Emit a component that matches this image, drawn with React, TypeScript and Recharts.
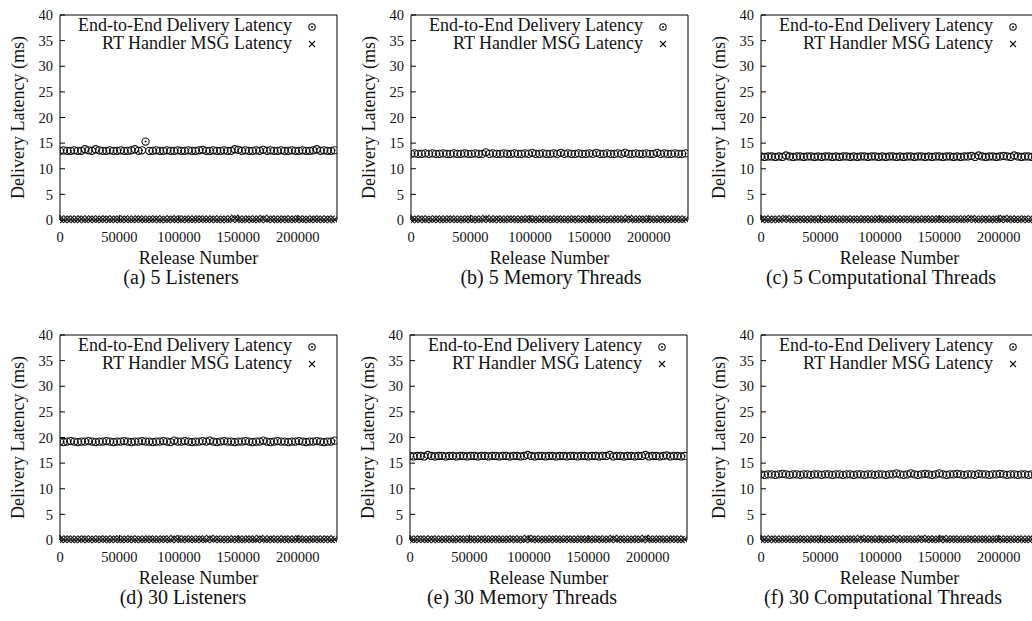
import React from 'react';
import { ScatterChart, Scatter, XAxis, YAxis, Legend, Label } from 'recharts';

// sampled release numbers (x axis)
const releases = [
  0, 3000, 6000, 9000, 12000, 15000, 18000, 21000, 24000, 27000, 30000, 33000, 36000,
  39000, 42000, 45000, 48000, 51000, 54000, 57000, 60000, 63000, 66000, 69000, 72000, 75000,
  78000, 81000, 84000, 87000, 90000, 93000, 96000, 99000, 102000, 105000, 108000, 111000, 114000,
  117000, 120000, 123000, 126000, 129000, 132000, 135000, 138000, 141000, 144000, 147000, 150000, 153000,
  156000, 159000, 162000, 165000, 168000, 171000, 174000, 177000, 180000, 183000, 186000, 189000, 192000,
  195000, 198000, 201000, 204000, 207000, 210000, 213000, 216000, 219000, 222000, 225000, 228000, 231000,
];

const xTicks = [0, 50000, 100000, 150000, 200000];
const yTicks = [0, 5, 10, 15, 20, 25, 30, 35, 40];

// (a) 5 Listeners
const e2eListeners5 = [
  13.5, 13.6, 13.5, 13.5, 13.6, 13.5, 13.5, 13.8, 13.6, 13.5, 13.8, 13.6, 13.5,
  13.5, 13.6, 13.5, 13.5, 13.6, 13.5, 13.5, 13.6, 13.8, 13.5, 13.6, 15.3, 13.5,
  13.5, 13.6, 13.5, 13.5, 13.6, 13.5, 13.5, 13.6, 13.5, 13.5, 13.6, 13.5, 13.5,
  13.6, 13.7, 13.5, 13.5, 13.6, 13.5, 13.5, 13.6, 13.5, 13.5, 13.8, 13.7, 13.5,
  13.6, 13.5, 13.5, 13.6, 13.5, 13.7, 13.5, 13.6, 13.5, 13.5, 13.6, 13.5, 13.5,
  13.6, 13.5, 13.5, 13.6, 13.5, 13.5, 13.6, 13.8, 13.5, 13.6, 13.5, 13.5, 13.6,
];
const rtListeners5 = [
  0.15, 0.1, 0.2, 0.15, 0.1, 0.15, 0.2, 0.1, 0.15, 0.2, 0.1, 0.15, 0.15,
  0.2, 0.1, 0.15, 0.15, 0.1, 0.2, 0.15, 0.1, 0.15, 0.2, 0.15, 0.1, 0.15,
  0.15, 0.2, 0.1, 0.15, 0.1, 0.2, 0.15, 0.15, 0.1, 0.2, 0.15, 0.1, 0.15,
  0.2, 0.15, 0.1, 0.15, 0.2, 0.1, 0.15, 0.15, 0.1, 0.2, 0.35, 0.15, 0.1,
  0.15, 0.2, 0.1, 0.15, 0.15, 0.3, 0.1, 0.2, 0.15, 0.1, 0.15, 0.2, 0.1,
  0.15, 0.15, 0.2, 0.1, 0.15, 0.1, 0.2, 0.15, 0.15, 0.1, 0.2, 0.15, 0.1,
];

// (b) 5 Memory Threads
const e2eMemory5 = [
  12.9, 13.0, 12.9, 12.9, 13.0, 12.9, 13.0, 12.9, 12.9, 13.0, 12.9, 12.9, 13.0,
  12.9, 12.9, 13.0, 12.9, 12.9, 13.0, 12.9, 12.9, 13.2, 12.9, 13.0, 12.9, 12.9,
  13.0, 12.9, 12.9, 13.0, 12.9, 12.9, 13.0, 12.9, 13.1, 12.9, 12.9, 13.0, 12.9,
  12.9, 13.0, 12.9, 13.1, 12.9, 13.0, 12.9, 12.9, 13.0, 12.9, 12.9, 13.0, 12.9,
  13.1, 12.9, 12.9, 13.0, 12.9, 12.9, 13.0, 12.9, 13.1, 12.9, 12.9, 13.0, 12.9,
  12.9, 13.0, 12.9, 12.9, 13.1, 12.9, 13.0, 12.9, 12.9, 13.0, 12.9, 12.9, 13.0,
];
const rtMemory5 = [
  0.1, 0.15, 0.15, 0.2, 0.1, 0.15, 0.1, 0.2, 0.15, 0.1, 0.15, 0.2, 0.15,
  0.1, 0.15, 0.15, 0.2, 0.1, 0.15, 0.1, 0.15, 0.3, 0.15, 0.1, 0.2, 0.15,
  0.1, 0.15, 0.2, 0.15, 0.1, 0.15, 0.15, 0.2, 0.1, 0.15, 0.1, 0.2, 0.15,
  0.15, 0.1, 0.2, 0.15, 0.1, 0.15, 0.15, 0.2, 0.1, 0.15, 0.2, 0.1, 0.15,
  0.15, 0.2, 0.1, 0.15, 0.1, 0.15, 0.2, 0.15, 0.1, 0.3, 0.15, 0.1, 0.15,
  0.2, 0.1, 0.15, 0.15, 0.1, 0.2, 0.15, 0.1, 0.15, 0.2, 0.15, 0.1, 0.15,
];

// (c) 5 Computational Threads
const e2eComp5 = [
  12.4, 12.3, 12.4, 12.4, 12.3, 12.4, 12.3, 12.6, 12.4, 12.3, 12.4, 12.4, 12.3,
  12.4, 12.4, 12.3, 12.4, 12.3, 12.4, 12.4, 12.3, 12.4, 12.3, 12.4, 12.4, 12.3,
  12.4, 12.3, 12.4, 12.4, 12.3, 12.4, 12.4, 12.3, 12.4, 12.3, 12.4, 12.4, 12.3,
  12.4, 12.3, 12.4, 12.4, 12.3, 12.4, 12.4, 12.3, 12.4, 12.3, 12.4, 12.4, 12.3,
  12.4, 12.4, 12.3, 12.4, 12.3, 12.4, 12.4, 12.5, 12.3, 12.6, 12.4, 12.3, 12.4,
  12.4, 12.3, 12.4, 12.5, 12.4, 12.3, 12.6, 12.4, 12.3, 12.4, 12.4, 12.3, 12.4,
];
const rtComp5 = [
  0.15, 0.2, 0.1, 0.15, 0.15, 0.1, 0.2, 0.3, 0.15, 0.1, 0.15, 0.2, 0.1,
  0.15, 0.15, 0.2, 0.1, 0.15, 0.1, 0.15, 0.2, 0.15, 0.1, 0.15, 0.2, 0.1,
  0.15, 0.15, 0.1, 0.2, 0.15, 0.1, 0.15, 0.2, 0.15, 0.1, 0.15, 0.15, 0.2,
  0.1, 0.15, 0.2, 0.1, 0.15, 0.15, 0.1, 0.2, 0.15, 0.1, 0.15, 0.2, 0.15,
  0.1, 0.15, 0.15, 0.2, 0.1, 0.15, 0.2, 0.3, 0.15, 0.1, 0.15, 0.2, 0.1,
  0.15, 0.15, 0.1, 0.3, 0.15, 0.2, 0.1, 0.15, 0.15, 0.2, 0.1, 0.15, 0.2,
];

// (d) 30 Listeners
const e2eListeners30 = [
  19.2, 19.1, 19.2, 19.3, 19.2, 19.1, 19.2, 19.2, 19.3, 19.2, 19.1, 19.2, 19.2,
  19.3, 19.2, 19.1, 19.2, 19.2, 19.3, 19.2, 19.1, 19.2, 19.2, 19.3, 19.2, 19.2,
  19.1, 19.2, 19.2, 19.3, 19.2, 19.1, 19.4, 19.2, 19.2, 19.3, 19.2, 19.1, 19.2,
  19.2, 19.3, 19.2, 19.4, 19.2, 19.1, 19.2, 19.3, 19.2, 19.2, 19.1, 19.2, 19.2,
  19.3, 19.2, 19.1, 19.2, 19.2, 19.4, 19.2, 19.1, 19.2, 19.3, 19.2, 19.2, 19.1,
  19.2, 19.2, 19.3, 19.2, 19.1, 19.2, 19.2, 19.3, 19.2, 19.1, 19.2, 19.2, 19.4,
];
const rtListeners30 = [
  0.1, 0.15, 0.2, 0.15, 0.1, 0.15, 0.15, 0.2, 0.1, 0.15, 0.1, 0.2, 0.15,
  0.15, 0.1, 0.2, 0.15, 0.1, 0.15, 0.15, 0.2, 0.1, 0.15, 0.1, 0.15, 0.2,
  0.15, 0.1, 0.15, 0.2, 0.15, 0.1, 0.3, 0.15, 0.1, 0.2, 0.15, 0.15, 0.1,
  0.2, 0.15, 0.1, 0.3, 0.15, 0.2, 0.1, 0.15, 0.15, 0.1, 0.2, 0.15, 0.1,
  0.15, 0.2, 0.15, 0.1, 0.3, 0.15, 0.1, 0.2, 0.15, 0.15, 0.1, 0.2, 0.15,
  0.1, 0.15, 0.2, 0.15, 0.1, 0.15, 0.15, 0.2, 0.1, 0.15, 0.2, 0.1, 0.15,
];

// (e) 30 Memory Threads
const e2eMemory30 = [
  16.4, 16.3, 16.4, 16.4, 16.3, 16.6, 16.4, 16.3, 16.4, 16.4, 16.3, 16.4, 16.4,
  16.3, 16.4, 16.4, 16.3, 16.4, 16.4, 16.3, 16.4, 16.4, 16.3, 16.4, 16.4, 16.3,
  16.4, 16.4, 16.3, 16.4, 16.4, 16.3, 16.4, 16.6, 16.4, 16.3, 16.4, 16.4, 16.3,
  16.4, 16.4, 16.3, 16.4, 16.4, 16.3, 16.4, 16.4, 16.3, 16.4, 16.4, 16.3, 16.4,
  16.4, 16.3, 16.4, 16.4, 16.6, 16.3, 16.4, 16.4, 16.3, 16.4, 16.4, 16.3, 16.4,
  16.4, 16.6, 16.3, 16.4, 16.4, 16.3, 16.4, 16.5, 16.3, 16.4, 16.4, 16.3, 16.4,
];
const rtMemory30 = [
  0.15, 0.1, 0.15, 0.2, 0.15, 0.1, 0.2, 0.15, 0.1, 0.15, 0.15, 0.2, 0.1,
  0.15, 0.2, 0.15, 0.1, 0.15, 0.15, 0.1, 0.2, 0.15, 0.1, 0.15, 0.2, 0.15,
  0.1, 0.15, 0.15, 0.2, 0.1, 0.15, 0.1, 0.3, 0.15, 0.2, 0.1, 0.15, 0.15,
  0.1, 0.2, 0.15, 0.15, 0.1, 0.2, 0.15, 0.1, 0.15, 0.2, 0.15, 0.1, 0.15,
  0.15, 0.2, 0.1, 0.15, 0.15, 0.3, 0.1, 0.2, 0.15, 0.1, 0.15, 0.15, 0.2,
  0.1, 0.3, 0.15, 0.1, 0.15, 0.2, 0.15, 0.1, 0.15, 0.2, 0.15, 0.1, 0.15,
];

// (f) 30 Computational Threads
const e2eComp30 = [
  12.8, 12.7, 12.8, 12.8, 12.7, 12.8, 12.9, 12.8, 12.7, 12.8, 12.8, 12.7, 12.8,
  12.8, 12.7, 12.8, 12.8, 12.7, 12.8, 12.8, 12.7, 12.8, 12.8, 12.7, 12.8, 12.8,
  12.7, 12.8, 12.8, 12.7, 12.8, 12.8, 12.7, 12.8, 12.8, 12.7, 12.8, 12.8, 13.0,
  12.8, 12.7, 12.8, 13.0, 12.8, 12.7, 12.8, 12.9, 12.8, 12.7, 12.8, 13.0, 12.8,
  12.7, 12.8, 12.8, 12.9, 12.8, 12.7, 12.8, 12.8, 12.7, 12.9, 12.8, 12.8, 12.7,
  12.8, 12.8, 12.9, 12.8, 12.7, 12.8, 12.8, 12.7, 12.8, 12.8, 12.7, 12.8, 12.8,
];
const rtComp30 = [
  0.15, 0.15, 0.1, 0.2, 0.15, 0.1, 0.15, 0.2, 0.15, 0.1, 0.15, 0.15, 0.2,
  0.1, 0.15, 0.2, 0.15, 0.1, 0.15, 0.15, 0.1, 0.2, 0.15, 0.1, 0.15, 0.2,
  0.15, 0.1, 0.3, 0.15, 0.15, 0.2, 0.1, 0.15, 0.15, 0.1, 0.2, 0.15, 0.3,
  0.1, 0.15, 0.2, 0.15, 0.1, 0.15, 0.3, 0.15, 0.2, 0.1, 0.15, 0.15, 0.3,
  0.1, 0.15, 0.2, 0.15, 0.1, 0.15, 0.15, 0.2, 0.1, 0.15, 0.2, 0.15, 0.1,
  0.15, 0.15, 0.2, 0.1, 0.15, 0.15, 0.1, 0.2, 0.15, 0.1, 0.15, 0.2, 0.15,
];

const captions = [
  '(a) 5 Listeners',
  '(b) 5 Memory Threads',
  '(c) 5 Computational Threads',
  '(d) 30 Listeners',
  '(e) 30 Memory Threads',
  '(f) 30 Computational Threads',
];
const e2eSeries = [e2eListeners5, e2eMemory5, e2eComp5, e2eListeners30, e2eMemory30, e2eComp30];
const rtSeries = [rtListeners5, rtMemory5, rtComp5, rtListeners30, rtMemory30, rtComp30];

// layout of the six panels (left/top of each chart, caption centre)
const layout = [
  { left: 0, top: 0, captionX: 181 },
  { left: 351, top: 0, captionX: 200 },
  { left: 701, top: 0, captionX: 180 },
  { left: 0, top: 320, captionX: 183 },
  { left: 350, top: 320, captionX: 172 },
  { left: 701, top: 320, captionX: 182 },
];

const W = 350;
const H = 310;
const FONT = '"Liberation Serif", "Times New Roman", serif';
const INK = '#111';

const CircleDot = (props: any) => {
  const { cx, cy, legend } = props;
  if (cx == null || cy == null) return null;
  return (
    <g>
      <circle cx={cx} cy={cy} r={legend ? 3.2 : 3.6} fill="none" stroke={INK} strokeWidth={1.1} />
      <circle cx={cx} cy={cy} r={1} fill={INK} />
    </g>
  );
};

const Cross = (props: any) => {
  const { cx, cy, legend } = props;
  if (cx == null || cy == null) return null;
  const s = legend ? 3 : 3.6;
  return (
    <g stroke={INK} strokeWidth={1.1}>
      <line x1={cx - s} y1={cy - s} x2={cx + s} y2={cy + s} />
      <line x1={cx - s} y1={cy + s} x2={cx + s} y2={cy - s} />
    </g>
  );
};

const PLOT_RIGHT = 337;

const LegendBox = (props: any) => {
  const items = props.payload || [];
  return (
    <svg width={W} height={60} style={{ display: 'block', overflow: 'visible' }}>
      {items.map((it: any, i: number) => (
        <g key={i}>
          <text
            x={PLOT_RIGHT - 45}
            y={25 + i * 18}
            textAnchor="end"
            dominantBaseline="central"
            fontFamily={FONT}
            fontSize={18}
            fill="#111"
          >
            {it.value}
          </text>
          {i === 0 ? (
            <CircleDot cx={PLOT_RIGHT - 25} cy={27} legend />
          ) : (
            <Cross cx={PLOT_RIGHT - 25} cy={44} legend />
          )}
        </g>
      ))}
    </svg>
  );
};

const Panel = ({ idx }: { idx: number }) => {
  const e2eData = releases.map((r, i) => ({ x: r, y: e2eSeries[idx][i] }));
  const rtData = releases.map((r, i) => ({ x: r, y: rtSeries[idx][i] }));
  const pos = layout[idx];
  const tickStyle = { fontFamily: FONT, fontSize: 14.5, fill: '#111' };

  return (
    <div style={{ position: 'absolute', left: pos.left, top: pos.top, width: W, height: H }}>
      <ScatterChart width={W} height={H} margin={{ top: 14, right: 12, bottom: 60, left: 20 }}>
        <XAxis
          xAxisId="b"
          dataKey="x"
          type="number"
          domain={[0, 233000]}
          ticks={xTicks}
          allowDataOverflow
          height={30}
          tickSize={-5}
          tickMargin={17}
          stroke="#000"
          tick={tickStyle}
          interval={0}
        >
          <Label
            content={(p: any) => {
              const vb = p.viewBox || { x: 60, y: 220, width: 277 };
              return (
                <g>
                  <text
                    x={vb.x + vb.width / 2}
                    y={vb.y + 38}
                    textAnchor="middle"
                    dominantBaseline="central"
                    fontFamily={FONT}
                    fontSize={18}
                    fill="#111"
                  >
                    Release Number
                  </text>
                  <text
                    x={pos.captionX}
                    y={277}
                    textAnchor="middle"
                    dominantBaseline="central"
                    fontFamily={FONT}
                    fontSize={20}
                    fill="#111"
                  >
                    {captions[idx]}
                  </text>
                </g>
              );
            }}
          />
        </XAxis>
        <XAxis
          xAxisId="t"
          orientation="top"
          type="number"
          domain={[0, 233000]}
          ticks={xTicks}
          height={1}
          tickSize={-5}
          tick={false}
          stroke="#000"
        />
        <YAxis
          yAxisId="l"
          dataKey="y"
          type="number"
          domain={[0, 40]}
          ticks={yTicks}
          width={40}
          tickSize={-5}
          tickMargin={12}
          stroke="#000"
          tick={tickStyle}
          interval={0}
        >
          <Label
            content={(p: any) => {
              const vb = p.viewBox || { x: 20, y: 15, height: 205 };
              const cx = 18;
              const cy = vb.y + vb.height / 2;
              return (
                <text
                  x={cx}
                  y={cy}
                  transform={`rotate(-90 ${cx} ${cy})`}
                  textAnchor="middle"
                  dominantBaseline="central"
                  fontFamily={FONT}
                  fontSize={18}
                  fill="#111"
                >
                  Delivery Latency (ms)
                </text>
              );
            }}
          />
        </YAxis>
        <YAxis
          yAxisId="r"
          orientation="right"
          type="number"
          domain={[0, 40]}
          ticks={yTicks}
          width={1}
          tickSize={-5}
          tick={false}
          stroke="#000"
        />
        <Legend
          layout="horizontal"
          verticalAlign="middle"
          align="center"
          width={W}
          wrapperStyle={{ left: 0, top: 0, width: W, height: 60, pointerEvents: 'none' }}
          content={<LegendBox />}
        />
        <Scatter
          name="End-to-End Delivery Latency"
          data={e2eData}
          xAxisId="b"
          yAxisId="l"
          shape={<CircleDot />}
          isAnimationActive={false}
        />
        <Scatter
          name="RT Handler MSG Latency"
          data={rtData}
          xAxisId="b"
          yAxisId="l"
          shape={<Cross />}
          isAnimationActive={false}
        />
      </ScatterChart>
    </div>
  );
};

export default function App() {
  return (
    <div
      style={{
        position: 'fixed',
        left: 0,
        top: 0,
        width: 1032,
        height: 621,
        overflow: 'hidden',
        background: '#fff',
      }}
    >
      {[0, 1, 2, 3, 4, 5].map((i) => (
        <Panel key={i} idx={i} />
      ))}
    </div>
  );
}
